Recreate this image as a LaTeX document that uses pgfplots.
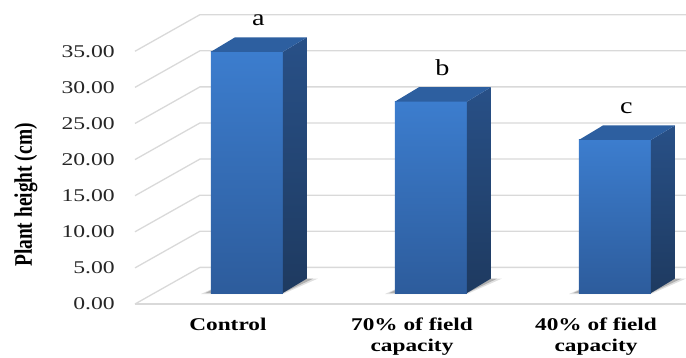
\documentclass[border=0pt]{standalone}
\usepackage{pgfplots}
\pgfplotsset{compat=1.18}
\usepackage{pgfplotstable}
\usepackage{fontspec}
\setmainfont{Liberation Serif}

\definecolor{frontTop}{HTML}{3C7DCE}
\definecolor{frontBot}{HTML}{2D5C9C}
\definecolor{sideTop}{HTML}{285087}
\definecolor{sideBot}{HTML}{1E3A60}
\definecolor{topFace}{HTML}{2D5FA0}
\definecolor{gridGray}{HTML}{D9D9D9}

% plant height per treatment
\pgfplotstableread{
x h lab
0 33.4 a
1 26.5 b
2 21.2 c
}\heights

% geometry of the pseudo-3D view (axis units)
\def\wx{0.353}   % depth of the floor, x
\def\wy{5.07}    % depth of the floor, y
\def\fx{0.103}   % bar front plane offset, x
\def\fy{1.523}   % bar front plane offset, y
\def\hw{0.1957}  % half bar width
\def\bdx{0.1304} % bar depth, x
\def\bdy{2.0}    % bar depth, y

\newcommand\drawbar[1]{%
  \pgfplotstablegetelem{#1}{h}\of\heights \let\hv\pgfplotsretval
  \pgfplotstablegetelem{#1}{lab}\of\heights \let\lv\pgfplotsretval
  \pgfmathsetmacro\xl{#1+\fx-\hw}%
  \pgfmathsetmacro\xr{#1+\fx+\hw}%
  \pgfmathsetmacro\xbl{\xl+\bdx}%
  \pgfmathsetmacro\xbr{\xr+\bdx}%
  \pgfmathsetmacro\yb{\fy}%
  \pgfmathsetmacro\yt{\hv+\fy}%
  \pgfmathsetmacro\ybb{\yb+\bdy}%
  \pgfmathsetmacro\ybt{\yt+\bdy}%
  % soft shadow on the floor
  \pgfmathsetmacro\sa{\xl-0.055}%
  \pgfmathsetmacro\sb{\xbr+0.06}%
  \pgfmathsetmacro\sc{\xl-0.03}%
  \pgfmathsetmacro\sd{\xbr+0.035}%
  \pgfmathsetmacro\sy{\yb-0.15}%
  \pgfmathsetmacro\lx{#1+\fx+0.062}%
  \pgfmathsetmacro\ly{\hv+\fy+3.6}%
  \edef\tmp{%
    \noexpand\addplot[draw=none, fill=black, fill opacity=0.12]
      coordinates {(\sa,\sy) (\xr,\sy) (\sb,\ybb) (\xbl,\ybb)};
    \noexpand\addplot[draw=none, fill=black, fill opacity=0.22]
      coordinates {(\sc,\yb) (\xr,\yb) (\sd,\ybb) (\xbl,\ybb)};
    \noexpand\addplot[draw=none, top color=frontTop, bottom color=frontBot]
      coordinates {(\xl,\yb) (\xr,\yb) (\xr,\yt) (\xl,\yt)};
    \noexpand\addplot[draw=none, top color=sideTop, bottom color=sideBot]
      coordinates {(\xr,\yb) (\xbr,\ybb) (\xbr,\ybt) (\xr,\yt)};
    \noexpand\addplot[draw=none, fill=topFace]
      coordinates {(\xl,\yt) (\xr,\yt) (\xbr,\ybt) (\xbl,\ybt)};
    \noexpand\node[anchor=base, inner sep=0pt,
      font=\noexpand\fontsize{23}{26}\noexpand\selectfont]
      at (axis cs:\lx,\ly) {\noexpand\scalebox{1.23}[1]{\lv}};
  }\tmp
}

\begin{document}
\begin{tikzpicture}
\begin{axis}[
  name=ax,
  scale only axis,
  width=551bp, height=304bp,
  xmin=-0.505, xmax=2.489,
  ymin=0, ymax=42.1,
  clip=false,
  axis line style={draw=none},
  major tick style={draw=none},
  minor tick num=0,
  ytick={0,5,...,35},
  /pgf/number format/assume math mode=true,
  yticklabel={\scalebox{1.32}[1]{\pgfmathprintnumber[fixed,fixed zerofill,precision=2]{\tick}}},
  yticklabel style={anchor=east, inner sep=0pt, xshift=-20bp,
    text=black!85, font=\fontsize{18}{20}\selectfont},
  xtick={0,1,2},
  xticklabels={\scalebox{1.3}[1]{Control},
    \scalebox{1.3}[1]{70\% of field}\\\scalebox{1.3}[1]{capacity},
    \scalebox{1.3}[1]{40\% of field}\\\scalebox{1.3}[1]{capacity}},
  xticklabel style={anchor=north, inner sep=0pt, yshift=-14bp, align=center,
    font=\bfseries\fontsize{18}{21}\selectfont},
]
% floor and wall grid lines
\pgfplotsinvokeforeach{0,5,...,35}{
  \draw[gridGray, line width=1.3bp]
    (axis cs:-0.505,#1) -- (axis cs:{-0.505+\wx},{#1+\wy}) -- (axis cs:2.489,{#1+\wy});
}
\draw[gridGray, line width=1.3bp] (axis cs:-0.505,0) -- (axis cs:2.489,0);

\drawbar{0}
\drawbar{1}
\drawbar{2}

\node[font=\bfseries\fontsize{19.5}{22}\selectfont]
  at (axis cs:-1.098,15.09) {\rotatebox{90}{\scalebox{1}[1.3]{Plant height (cm)}}};
\end{axis}
\pgfresetboundingbox
\path ([xshift=-135bp,yshift=-54bp]ax.south west) rectangle (ax.north east);
\end{tikzpicture}
\end{document}
